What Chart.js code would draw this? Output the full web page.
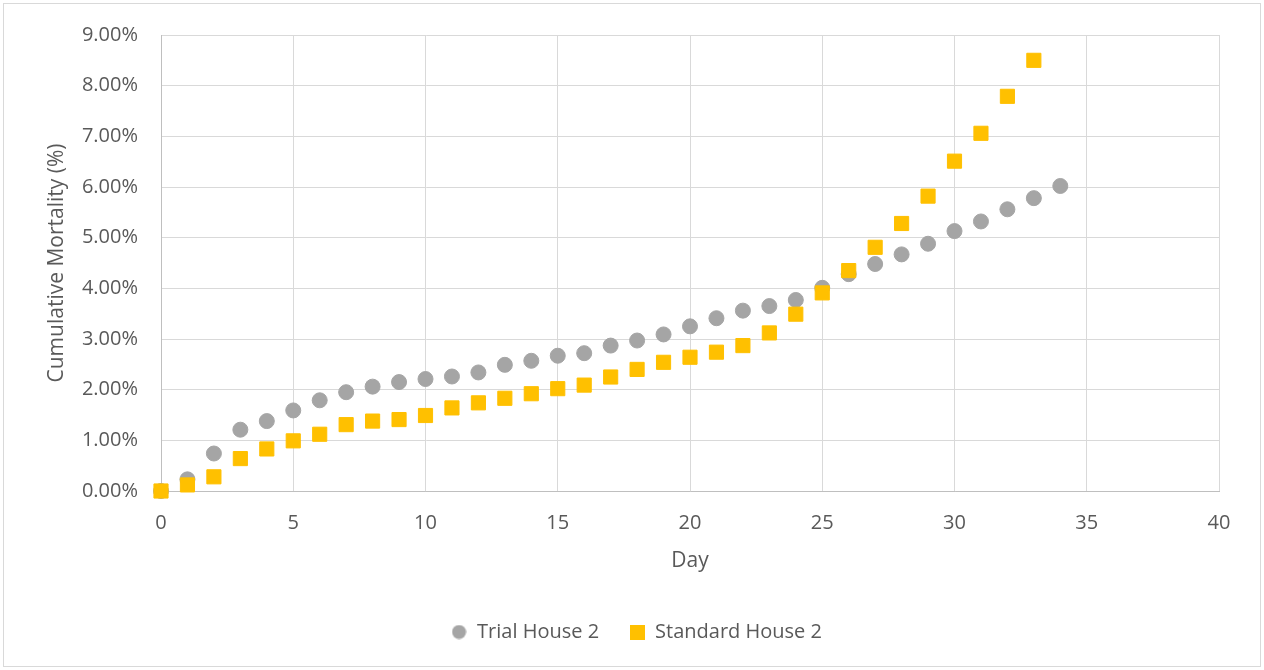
<!DOCTYPE html>
<html>
<head>
<meta charset="utf-8">
<script src="https://cdn.jsdelivr.net/npm/chart.js@4/dist/chart.umd.min.js"></script>
<style>
  html, body { margin: 0; padding: 0; background: #fff; }
  #wrap { position: relative; width: 1264px; height: 670px; }
  #frame { position: absolute; left: 3px; top: 3px; width: 1256px; height: 662px; border: 1px solid #d9d9d9; pointer-events: none; }
  canvas { position: absolute; left: 0; top: 0; }
</style>
</head>
<body>
<div id="wrap">
  <canvas id="chart" width="1264" height="670"></canvas>
  <div id="frame"></div>
</div>
<script>
// cumulative mortality in percent
const trialDays = [0, 1, 2, 3, 4, 5, 6, 7, 8, 9, 10, 11, 12, 13, 14, 15, 16, 17, 18, 19, 20, 21, 22, 23, 24, 25, 26, 27, 28, 29, 30, 31, 32, 33, 34];
const trialValues = [0, 0.23, 0.74, 1.21, 1.38, 1.59, 1.79, 1.95, 2.06, 2.15, 2.21, 2.26, 2.34, 2.49, 2.57, 2.67, 2.72, 2.87, 2.97, 3.09, 3.25, 3.41, 3.56, 3.65, 3.77, 4.01, 4.28, 4.48, 4.67, 4.88, 5.13, 5.32, 5.56, 5.78, 6.02];

const standardDays = [0, 1, 2, 3, 4, 5, 6, 7, 8, 9, 10, 11, 12, 13, 14, 15, 16, 17, 18, 19, 20, 21, 22, 23, 24, 25, 26, 27, 28, 29, 30, 31, 32, 33];
const standardValues = [0, 0.12, 0.28, 0.64, 0.83, 0.99, 1.12, 1.31, 1.38, 1.41, 1.49, 1.64, 1.74, 1.83, 1.92, 2.02, 2.09, 2.25, 2.40, 2.54, 2.64, 2.74, 2.87, 3.12, 3.49, 3.91, 4.35, 4.81, 5.28, 5.82, 6.51, 7.06, 7.79, 8.50];

const seriesNames = ["Trial House 2", "Standard House 2"];

const grey = "#a5a5a5";
const gold = "#ffc000";
const textColor = "#595959";
const fontFamily = "'Open Sans', sans-serif";

function toPoints(xs, ys) {
  return xs.map((x, i) => ({ x: x, y: ys[i] }));
}

// little marker images for the legend so sizes can be set exactly
function markerCanvas(shape, color) {
  const c = document.createElement("canvas");
  c.width = 15;
  c.height = 15;
  const g = c.getContext("2d");
  g.fillStyle = color;
  if (shape === "circle") {
    g.beginPath();
    g.arc(7.5, 7.5, 7, 0, Math.PI * 2);
    g.fill();
  } else {
    g.fillRect(0, 0, 15, 15);
  }
  return c;
}
const legendMarkers = [markerCanvas("circle", grey), markerCanvas("rect", gold)];

// legend is centred on the whole canvas in the original, not just left of the right padding
const legendShift = {
  id: "legendShift",
  afterLayout(c) {
    c.legend.left += 27;
    c.legend.right += 27;
  },
};

const ctx = document.getElementById("chart").getContext("2d");
const chart = new Chart(ctx, {
  type: "scatter",
  data: {
    datasets: [
      {
        label: seriesNames[0],
        data: toPoints(trialDays, trialValues),
        pointStyle: "circle",
        pointRadius: 7.5,
        pointBackgroundColor: grey,
        pointBorderColor: grey,
        pointBorderWidth: 1,
        clip: false,
        order: 1,
      },
      {
        label: seriesNames[1],
        data: toPoints(standardDays, standardValues),
        pointStyle: "rect",
        pointRadius: 10,
        pointBackgroundColor: gold,
        pointBorderColor: gold,
        pointBorderWidth: 1,
        clip: false,
        order: 0,
      },
    ],
  },
  plugins: [legendShift],
  options: {
    responsive: false,
    animation: false,
    layout: { padding: { left: 0, right: 45, top: 33, bottom: 20 } },
    plugins: {
      tooltip: { enabled: false },
      legend: {
        position: "bottom",
        maxHeight: 58,
        labels: {
          usePointStyle: true,
          boxWidth: 16,
          padding: 30,
          color: textColor,
          font: { family: fontFamily, size: 20 },
          sort: (a, b) => a.datasetIndex - b.datasetIndex,
          generateLabels: (c) => {
            const items = Chart.defaults.plugins.legend.labels.generateLabels(c);
            items.forEach((it) => { it.pointStyle = legendMarkers[it.datasetIndex]; });
            return items;
          },
        },
      },
    },
    scales: {
      x: {
        type: "linear",
        min: 0,
        max: 40,
        afterFit: (s) => { s.height = 101; },
        ticks: { stepSize: 5, padding: 20, color: textColor, font: { family: fontFamily, size: 20 } },
        grid: { color: "#d9d9d9", drawTicks: false },
        border: { color: "#bfbfbf" },
        title: { display: true, text: "Day", color: textColor, font: { family: fontFamily, size: 21 }, padding: { top: 0, bottom: 18 } },
      },
      y: {
        min: 0,
        max: 9,
        afterFit: (s) => { s.width = 161; },
        ticks: {
          stepSize: 1,
          padding: 23,
          color: textColor,
          font: { family: fontFamily, size: 20 },
          callback: (v) => v.toFixed(2) + "%",
        },
        grid: { color: "#d9d9d9", drawTicks: false },
        border: { color: "#bfbfbf" },
        title: { display: true, text: "Cumulative Mortality (%)", color: textColor, font: { family: fontFamily, size: 21 }, padding: { top: 44, bottom: 0 } },
      },
    },
  },
});
</script>
</body>
</html>
